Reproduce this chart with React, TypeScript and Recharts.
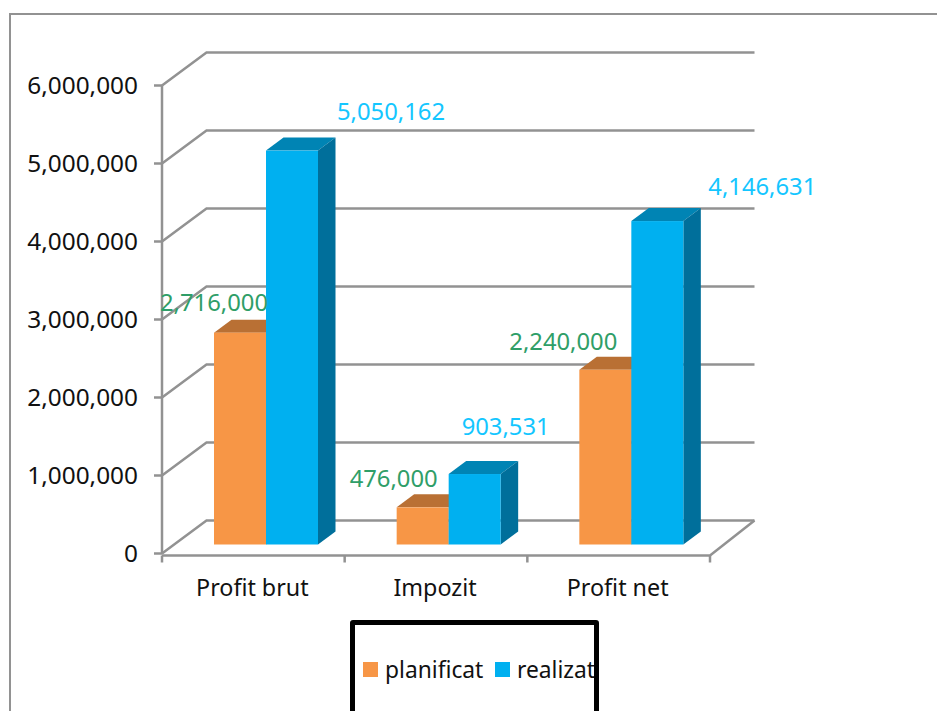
import React from 'react';
import { BarChart, Bar, XAxis, YAxis, CartesianGrid, Legend, LabelList } from 'recharts';

const categories = ['Profit brut', 'Impozit', 'Profit net'];
const planificat = [2716000, 476000, 2240000];
const realizat = [5050162, 903531, 4146631];
const yTicks = [0, 1000000, 2000000, 3000000, 4000000, 5000000, 6000000];

const data = categories.map((name, i) => ({ name, planificat: planificat[i], realizat: realizat[i] }));

// data labels were dragged by hand in the original, so each has its own nudge
const planLabelNudge = [[-26, -31], [-29, -29], [-42, -29]];
const realLabelNudge = [[99, -40], [31, -48], [105, -35]];

const FONT = '"Noto Sans", sans-serif';
const GREY = '#929292';
const WALL_DX = 44.5;
const WALL_DY = -33;
const BAR_DX = 13;
const BAR_DY = -9;
const DEPTH_DX = 17.5;
const DEPTH_DY = -13;
const LABEL_SIZE = 23.8;

const formatNumber = (value: number) => value.toLocaleString('en-US');

const makeBarShape = (topColor: string, sideColor: string) => (props: any) => {
    const { width, height, fill } = props;
    const x = props.x + BAR_DX;
    const y = props.y + BAR_DY;
    const right = x + width;
    const bottom = y + height;
    return (
        <g>
            <polygon points={`${x},${y} ${right},${y} ${right + DEPTH_DX},${y + DEPTH_DY} ${x + DEPTH_DX},${y + DEPTH_DY}`} fill={topColor} />
            <polygon points={`${right},${y} ${right + DEPTH_DX},${y + DEPTH_DY} ${right + DEPTH_DX},${bottom + DEPTH_DY} ${right},${bottom}`} fill={sideColor} />
            <rect x={x} y={y} width={width} height={height} fill={fill} />
        </g>
    );
};

const makeLabel = (nudge: number[][], color: string) => (props: any) => {
    const { x, y, width, value, index } = props;
    return (
        <text
            x={x + BAR_DX + width / 2 + nudge[index][0]}
            y={y + BAR_DY + nudge[index][1]}
            fill={color}
            fontSize={LABEL_SIZE}
            fontFamily={FONT}
            textAnchor="middle"
            dominantBaseline="central"
        >
            {formatNumber(value)}
        </text>
    );
};

// one wall line per y tick: slanted piece on the side wall, then along the back wall
const wallLine = (props: any) => {
    const { x1, x2, y1, index } = props;
    const isFloor = Math.abs(y1 - 553.5) < 1;
    const line = { stroke: GREY, strokeWidth: 2.5, fill: 'none' };
    const step = (x2 - x1) / categories.length;
    return (
        <g key={`wall-${index}`}>
            <polyline points={`${x1},${y1} ${x1 + WALL_DX},${y1 + WALL_DY} ${x2 + WALL_DX},${y1 + WALL_DY}`} {...line} />
            {isFloor && (
                <>
                    <polyline points={`${x2 + WALL_DX},${y1 + WALL_DY} ${x2},${y1 + 2} ${x1},${y1 + 2}`} {...line} />
                    {categories.concat('').map((_, i) => (
                        <line key={i} x1={x1 + step * i} x2={x1 + step * i} y1={y1 + 2} y2={y1 + 9} {...line} />
                    ))}
                </>
            )}
        </g>
    );
};

const LegendBox = ({ payload }: any) => (
    <div style={{ position: 'relative', width: 249, height: 120, fontFamily: FONT, fontSize: 22.8, color: '#111' }}>
        {(payload || []).map((entry: any, i: number) => (
            <div key={entry.value} style={{ position: 'absolute', left: i === 0 ? 13 : 145, top: 35, display: 'flex', alignItems: 'center', height: 28 }}>
                <span style={{ width: 15, height: 15, background: entry.color, marginRight: 7, display: 'block' }} />
                <span>{entry.value}</span>
            </div>
        ))}
        <div style={{ position: 'absolute', inset: 0, border: '5px solid #000', borderRadius: 3, boxSizing: 'border-box' }} />
    </div>
);

export default function App() {
    return (
        <div style={{ position: 'absolute', left: 0, top: 0, width: 937, height: 711, overflow: 'hidden', background: '#fff' }}>
            <div style={{ position: 'absolute', left: 9, top: 13, width: 1000, height: 800, border: `2px solid ${GREY}` }} />
            <div style={{ position: 'absolute', left: 0, top: 0 }}>
                <BarChart
                    width={937}
                    height={711}
                    data={data}
                    barGap={0}
                    barSize={52}
                    margin={{ top: 85.5, right: 227, bottom: 117.5, left: 12 }}
                >
                    <CartesianGrid horizontal={wallLine} vertical={false} />
                    <XAxis
                        dataKey="name"
                        height={40}
                        axisLine={false}
                        tickLine={false}
                        tickMargin={20}
                        tick={{ fill: '#111', fontSize: 23.3, fontFamily: FONT, dx: -1 }}
                    />
                    <YAxis
                        width={150}
                        domain={[0, 6000000]}
                        ticks={yTicks}
                        tickFormatter={formatNumber}
                        tickSize={8}
                        tickMargin={16}
                        axisLine={{ stroke: GREY, strokeWidth: 2.5 }}
                        tickLine={{ stroke: GREY, strokeWidth: 2.5 }}
                        tick={{ fill: '#111', fontSize: 24.4, fontFamily: FONT }}
                    />
                    <Legend
                        layout="horizontal"
                        verticalAlign="middle"
                        align="center"
                        content={<LegendBox />}
                        wrapperStyle={{ left: 350, top: 620, width: 249 }}
                    />
                    <Bar dataKey="planificat" name="planificat" fill="#F79646" shape={makeBarShape('#B97034', '#B97034')} isAnimationActive={false}>
                        <LabelList dataKey="planificat" content={makeLabel(planLabelNudge, '#2F9E68')} />
                    </Bar>
                    <Bar dataKey="realizat" name="realizat" fill="#00B0F0" shape={makeBarShape('#0084B4', '#006F9B')} isAnimationActive={false}>
                        <LabelList dataKey="realizat" content={makeLabel(realLabelNudge, '#14C6FF')} />
                    </Bar>
                </BarChart>
            </div>
        </div>
    );
}
